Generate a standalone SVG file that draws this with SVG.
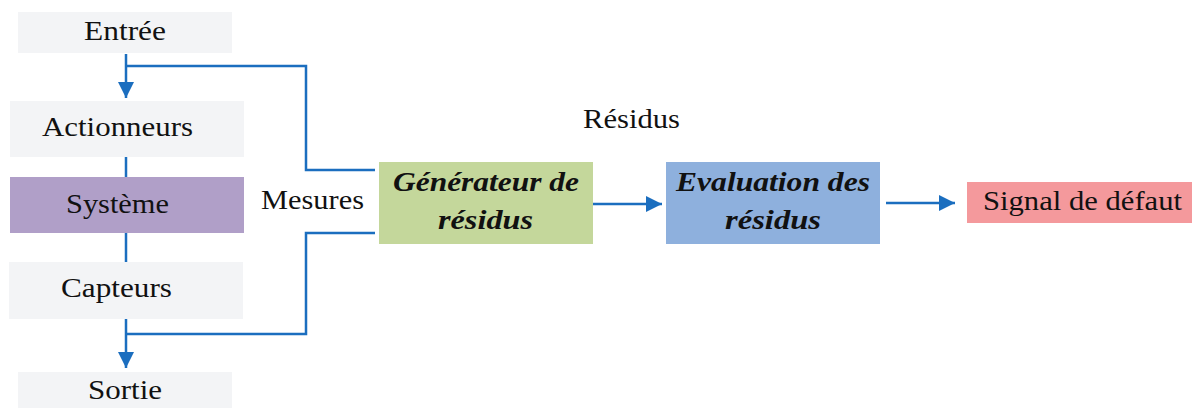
<svg xmlns="http://www.w3.org/2000/svg" width="1192" height="408" viewBox="0 0 1192 408">
<style>
.t{font-family:"Liberation Serif","Times New Roman",serif;font-size:27px;fill:#111;}
.b{font-weight:bold;font-style:italic;}
.gray{fill:#f3f4f6;}
.c{fill:none;stroke:#1b6ebf;stroke-width:2.5;}
</style>
<defs>
<marker id="ah" viewBox="0 0 16 16" refX="16" refY="8" markerWidth="16" markerHeight="16" markerUnits="userSpaceOnUse" orient="auto">
<path d="M0,0 L16,8 L0,16 Z" fill="#1b6ebf"/>
</marker>
</defs>
<rect width="1192" height="408" fill="#ffffff"/>
<g id="connectors">
<line class="c" x1="126" y1="54" x2="126" y2="98" marker-end="url(#ah)"/>
<polyline class="c" points="126,66 306,66 306,170 375,170"/>
<line class="c" x1="126" y1="157" x2="126" y2="177"/>
<line class="c" x1="126" y1="233" x2="126" y2="262"/>
<line class="c" x1="126" y1="319" x2="126" y2="368" marker-end="url(#ah)"/>
<polyline class="c" points="375,233 306,233 306,334 126,334"/>
<line class="c" x1="593" y1="204" x2="662" y2="204" marker-end="url(#ah)"/>
<line class="c" x1="886" y1="203" x2="955" y2="203" marker-end="url(#ah)"/>
</g>
<g id="entree">
<rect class="gray" x="18" y="12" width="214" height="41"/>
<text class="t" x="125" y="40" text-anchor="middle" textLength="82" lengthAdjust="spacingAndGlyphs">Entrée</text>
</g>
<g id="actionneurs">
<rect class="gray" x="10" y="101" width="234" height="56"/>
<text class="t" x="117.5" y="136" text-anchor="middle" textLength="151" lengthAdjust="spacingAndGlyphs">Actionneurs</text>
</g>
<g id="systeme">
<rect x="10" y="177" width="234" height="56" fill="#b09fc8"/>
<text class="t" x="117.5" y="213" text-anchor="middle" textLength="103" lengthAdjust="spacingAndGlyphs">Système</text>
</g>
<g id="capteurs">
<rect class="gray" x="9" y="262" width="234" height="57"/>
<text class="t" x="116.5" y="297" text-anchor="middle" textLength="111" lengthAdjust="spacingAndGlyphs">Capteurs</text>
</g>
<g id="sortie">
<rect class="gray" x="18" y="372" width="214" height="36"/>
<text class="t" x="125" y="399" text-anchor="middle" textLength="74" lengthAdjust="spacingAndGlyphs">Sortie</text>
</g>
<g id="mesures">
<text class="t" x="312.5" y="209" text-anchor="middle" textLength="103" lengthAdjust="spacingAndGlyphs">Mesures</text>
</g>
<g id="residus-label">
<text class="t" x="631.5" y="128" text-anchor="middle" textLength="97" lengthAdjust="spacingAndGlyphs">Résidus</text>
</g>
<g id="generateur">
<rect x="379" y="162" width="214" height="82" fill="#c4d79b"/>
<text class="t b" x="486" y="191" text-anchor="middle" textLength="186" lengthAdjust="spacingAndGlyphs">Générateur de</text>
<text class="t b" x="485.5" y="229" text-anchor="middle" textLength="95" lengthAdjust="spacingAndGlyphs">résidus</text>
</g>
<g id="evaluation">
<rect x="666" y="162" width="214" height="82" fill="#8eb0dd"/>
<text class="t b" x="773" y="191" text-anchor="middle" textLength="194" lengthAdjust="spacingAndGlyphs">Evaluation des</text>
<text class="t b" x="773" y="229" text-anchor="middle" textLength="96" lengthAdjust="spacingAndGlyphs">résidus</text>
</g>
<g id="signal">
<rect x="967" y="182" width="225" height="41" fill="#f4999c"/>
<text class="t" x="1082.5" y="210" text-anchor="middle" textLength="199" lengthAdjust="spacingAndGlyphs">Signal de défaut</text>
</g>
</svg>
